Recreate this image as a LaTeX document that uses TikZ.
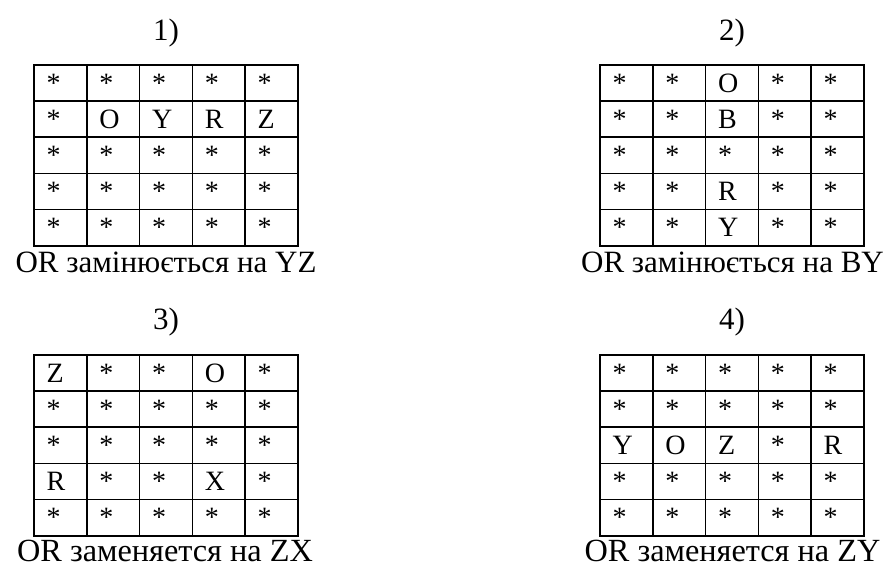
\documentclass[tikz,border=0pt]{standalone}
\usepackage{fontspec}
\setmainfont{Liberation Serif}
\tikzset{
  gridline/.style={line width=1.6pt, draw=black},
  cell/.style={anchor=base west, inner sep=0pt, font=\fontsize{28}{32}\selectfont},
  heading/.style={anchor=base, inner sep=0pt, text depth=0pt, font=\fontsize{31}{36}\selectfont},
  rucaption/.style={heading, font=\fontsize{32.3}{36}\selectfont},
}
\def\cw{52.8}
\def\rh{36.14}
\newcommand\mygrid[4]{%
  \draw[gridline] (#2,#3) rectangle ++({5*\cw},{5*\rh});
  \foreach \i in {1,...,4} {
    \draw[gridline] ({#2+\i*\cw},#3) -- ++(0,{5*\rh});
    \draw[gridline] (#2,{#3+\i*\rh}) -- ++({5*\cw},0);
  }
  \foreach \rowc [count=\r] in {#4} {
    \foreach \t [count=\c] in \rowc {
      \node[cell] (#1-\r-\c) at ({#2+(\c-1)*\cw+12.3},{#3+\r*\rh-9}) {\t};
    }
  }
}
\begin{document}
\begin{tikzpicture}[x=1pt,y=-1pt]
\useasboundingbox (0,0) rectangle (889,566);
% grid 1
\node[heading] (t1) at (166,40) {1)};
\mygrid{ga}{34}{65}{{*,*,*,*,*},{*,O,Y,R,Z},{*,*,*,*,*},{*,*,*,*,*},{*,*,*,*,*}}
\node[heading] (c1) at (166,272.8) {OR замінюється на YZ};
% grid 2
\node[heading] (t2) at (732,40) {2)};
\mygrid{gb}{600}{65}{{*,*,O,*,*},{*,*,B,*,*},{*,*,*,*,*},{*,*,R,*,*},{*,*,Y,*,*}}
\node[heading] (c2) at (732.5,272.8) {OR замінюється на BY};
% grid 3
\node[heading] (t3) at (166,329) {3)};
\mygrid{gc}{34}{355}{{Z,*,*,O,*},{*,*,*,*,*},{*,*,*,*,*},{R,*,*,X,*},{*,*,*,*,*}}
\node[rucaption] (c3) at (165,561.5) {OR заменяется на ZX};
% grid 4
\node[heading] (t4) at (732,329) {4)};
\mygrid{gd}{600}{355}{{*,*,*,*,*},{*,*,*,*,*},{Y,O,Z,*,R},{*,*,*,*,*},{*,*,*,*,*}}
\node[rucaption] (c4) at (732.5,561.5) {OR заменяется на ZY};
\end{tikzpicture}
\end{document}
